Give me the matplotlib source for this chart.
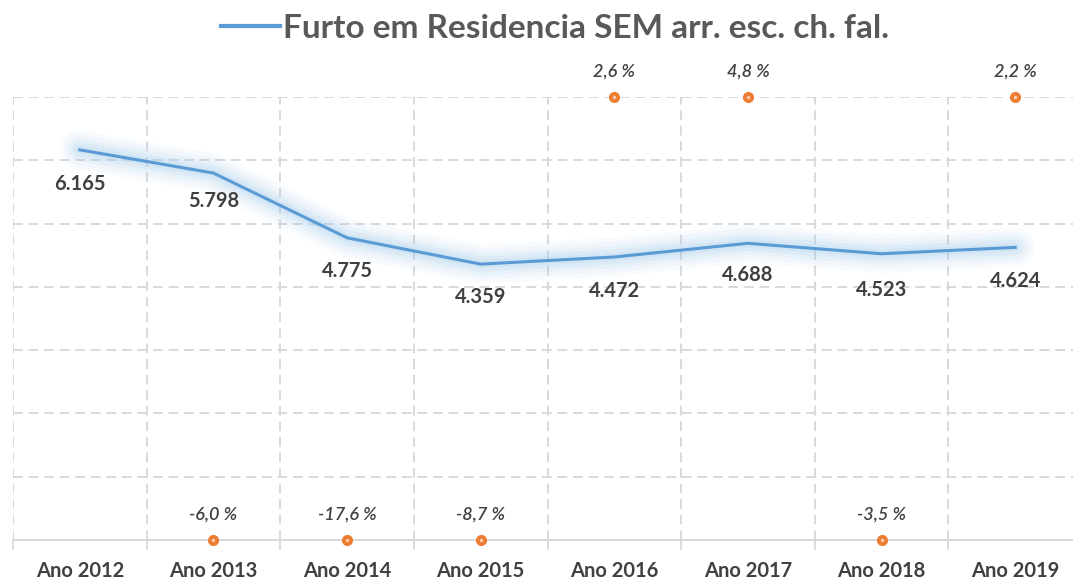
import numpy as np
import matplotlib.pyplot as plt

plt.rcParams['font.family'] = ['Lato', 'DejaVu Sans']

# data
anos = ['Ano 2012', 'Ano 2013', 'Ano 2014', 'Ano 2015', 'Ano 2016', 'Ano 2017', 'Ano 2018', 'Ano 2019']
furtos = [6165, 5798, 4775, 4359, 4472, 4688, 4523, 4624]
variacao = [np.nan, -6.0, -17.6, -8.7, 2.6, 4.8, -3.5, 2.2]

label_offsets = [-34, -28, -33, -33, -34, -32, -36, -34]  # px below the point

blue = '#5b9bd5'
orange = '#ed7d31'
grid_c = '#d9d9d9'
text_c = '#404040'

fig = plt.figure(figsize=(10.73, 5.80), dpi=100)
ax = fig.add_axes([13 / 1073, 40 / 580, (1082 - 13) / 1073, (540 - 97) / 580])

x = np.arange(len(anos))
ymin, ymax = 0, 7000

# glow behind the line
for lw, a in [(28, 0.07), (22, 0.09), (16, 0.12), (11, 0.15), (6, 0.2)]:
    ax.plot(x, furtos, color='#a9cdef', lw=lw, alpha=a, solid_capstyle='round',
            solid_joinstyle='round', zorder=2)
line, = ax.plot(x, furtos, color=blue, lw=2.2, zorder=3,
                label='Furto em Residencia SEM arr. esc. ch. fal.')

for xi, v, off in zip(x, furtos, label_offsets):
    ax.annotate(f'{v:,}'.replace(',', '.'), (xi, v), xytext=(0, off * 0.72),
                textcoords='offset points', ha='center', va='center',
                fontsize=14.5, fontweight='bold', color=text_c)

# percent change markers: positive on top edge, negative on bottom edge
var = np.array(variacao)
ok = ~np.isnan(var)
ypos = np.where(var > 0, ymax, ymin)
ax.plot(x[ok], ypos[ok], 'o', ms=7, mfc=orange, mec=orange, zorder=5, clip_on=False)
ax.plot(x[ok], ypos[ok], 'o', ms=2.5, mfc='#f8cbad', mec='none', zorder=6, clip_on=False)
for xi, yi, p in zip(x[ok], ypos[ok], var[ok]):
    ax.annotate(f'{p:.1f} %'.replace('.', ','), (xi, yi), xytext=(0, 18),
                textcoords='offset points', ha='center', va='center',
                fontsize=13, fontstyle='italic', fontweight='semibold', color=text_c)

ax.set_xlim(-0.5, len(anos) - 0.5)
ax.set_ylim(ymin, ymax)
ax.set_yticks(np.arange(1000, 7001, 1000))
ax.set_yticklabels([])
ax.tick_params(axis='y', length=0)
ax.set_xticks(x)
ax.set_xticklabels(anos, fontsize=14.5, fontweight='bold', color=text_c)
ax.tick_params(axis='x', which='major', length=0, pad=15)
ax.set_xticks(np.arange(-0.5, len(anos), 1), minor=True)
ax.tick_params(axis='x', which='minor', length=7, color=grid_c, width=1.3)

ax.grid(axis='y', which='major', color=grid_c, ls=(0, (5, 3)), lw=1.4, zorder=0)
ax.grid(axis='x', which='minor', color=grid_c, ls=(0, (5, 3)), lw=1.4, zorder=0)
ax.grid(axis='x', which='major', visible=False)

for s in ['top', 'right', 'left']:
    ax.spines[s].set_visible(False)
ax.spines['bottom'].set_color(grid_c)
ax.spines['bottom'].set_linewidth(1.4)

fig.legend(handles=[line], loc='center', bbox_to_anchor=(555 / 1073, 1 - 28 / 580),
           frameon=False, handlelength=1.75, handletextpad=0.1,
           prop={'size': 24, 'weight': 'bold'}, labelcolor='#595959')
leg = fig.legends[0]
leg.get_lines()[0].set_linewidth(3)

fig.savefig('out.png', dpi=100)
